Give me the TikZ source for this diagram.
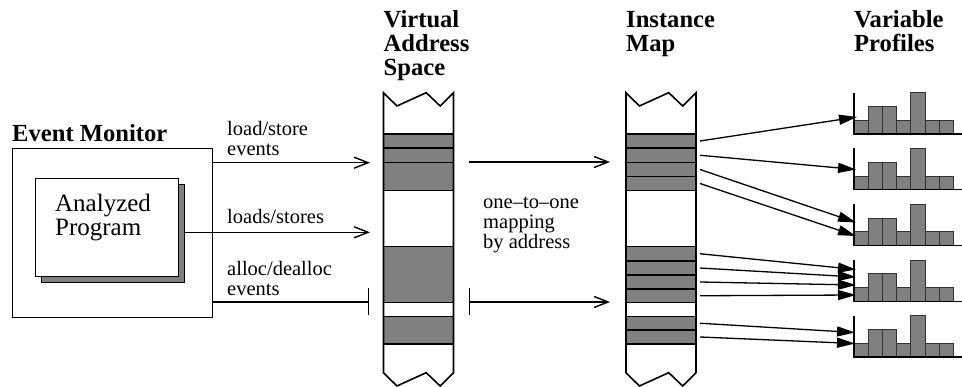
\documentclass[tikz,border=0pt]{standalone}
\usepackage{fontspec}
\setmainfont{Liberation Serif}
\usetikzlibrary{arrows.meta}
\definecolor{midgray}{RGB}{128,128,128}
\begin{document}
\begin{tikzpicture}[x=1pt,y=-1pt,
  lw/.style={line width=1.4pt},
  colline/.style={line width=1.6pt, line join=miter},
  band/.style={fill=midgray, draw=black, line width=1.2pt},
  bar/.style={fill=midgray, draw=black!80, line width=0.9pt},
  lbl/.style={anchor=base west, inner sep=0pt, font=\fontsize{20.5}{20}\selectfont, align=left},
  big/.style={anchor=base west, inner sep=0pt, font=\fontsize{25}{24}\selectfont, align=left},
  ttl/.style={anchor=base west, inner sep=0pt, font=\fontsize{24.6}{24}\selectfont\bfseries, align=left},
  openarr/.style={lw, -{Straight Barb[length=14pt,width=11pt,line width=1.4pt]}},
  teeopen/.style={lw, {Bar[width=27pt,line width=1.4pt]}-{Straight Barb[length=14pt,width=11pt,line width=1.4pt]}},
  arrtee/.style={lw, -{Bar[width=27pt,line width=1.4pt]}},
  filarr/.style={line width=1.3pt, -{Triangle[length=18pt,width=10pt]}}
]
\useasboundingbox (0,0) rectangle (962,387);

% ---------- Event monitor ----------
\node[ttl] (emtitle) at (12,142) {Event Monitor};
\node[draw, lw, minimum width=200pt, minimum height=169pt, anchor=north west, inner sep=0pt] (em) at (12,148) {};
\fill[midgray, draw=black, line width=0.8pt] (41,184) rectangle (184,282);
\node[draw, lw, fill=white, minimum width=143pt, minimum height=98pt, anchor=north west, inner sep=0pt] (ap) at (35,178) {};
\coordinate (shadowE) at (184,232.3);
\node[big] (aptext) at (55,236) {Analyzed\\Program};

% ---------- labels on the left arrows ----------
\node[lbl] (l1) at (227,155.7) {load/store\\events};
\node[lbl] (l2) at (227,224) {loads/stores};
\node[lbl] (l3) at (227,296) {alloc/dealloc\\events};
\node[lbl] (l4) at (483,249) {one--to--one\\mapping\\by address};

% ---------- column titles ----------
\node[ttl] (vas) at (383.5,76) {Virtual\\Address\\Space};
\node[ttl] (imt) at (626,52) {Instance\\Map};
\node[ttl] (vpt) at (854,52) {Variable\\Profiles};

% ---------- bands ----------
\foreach \a/\b in {134/148,148/162.5,162.5/190.5,246.5/302.5,316.5/344}
  \draw[band] (383.5,\a) rectangle (453.5,\b);
\foreach \a/\b in {134/148,148/162.5,162.5/176.5,176.5/190.5,246.5/261,261/275,275/289,289/302.5,316.5/330,330/344}
  \draw[band] (626,\a) rectangle (696,\b);

% ---------- columns ----------
\foreach \xo in {383.5,626}{
  \draw[colline, shift={(\xo,0)}]
    (0,92.7) -- (0,372.7) -- (13.4,386) -- (42.7,372.7) -- (56.7,386) -- (70,372.7)
    -- (70,92.7) -- (56.7,106) -- (42.7,92.7) -- (13.4,106) -- cycle;
}

% ---------- left arrows ----------
\coordinate (a1e) at (370,162.7);
\coordinate (a2e) at (370,232.3);
\coordinate (a3e) at (369,302);
\draw[openarr] (em.east |- a1e) -- (a1e);
\draw[openarr] (shadowE) -- (a2e);
\draw[arrtee] (em.east |- a3e) -- (a3e);

\coordinate (m1s) at (469,162);
\coordinate (m1e) at (610,162);
\coordinate (m2s) at (469,302);
\coordinate (m2e) at (610,302);
\draw[openarr] (m1s) -- (m1e);
\draw[teeopen] (m2s) -- (m2e);

% ---------- histograms ----------
\foreach \k in {0,...,4}{
  \pgfmathsetmacro\bb{134+55.8*\k}
  \foreach \i/\h in {0/1,1/2,2/2,3/1,4/3,5/1,6/1}
    \draw[bar] ({854+14.2*\i},\bb) rectangle ({854+14.2*(\i+1)},{\bb-13.8*\h});
  \draw[lw] (854,{\bb-41.4}) -- (854,\bb) -- (962,\bb);
}

% ---------- instance map to profiles ----------
\foreach \i/\y in {1/141,2/155.25,3/169.5,4/183.5,5/253.75,6/268,7/282,8/295.75,9/323.25,10/337}
  \coordinate (s\i) at (700,\y);
\foreach \i/\x/\y in {1/857/117,2/856/169.5,3/856/222.5,4/856/236,5/856/269.5,6/856/277,7/856/285,8/856/295,9/855/332.5,10/855/343.5}
  \coordinate (t\i) at (\x,\y);
\foreach \i in {1,...,10}
  \draw[filarr] (s\i) -- (t\i);
\end{tikzpicture}
\end{document}
